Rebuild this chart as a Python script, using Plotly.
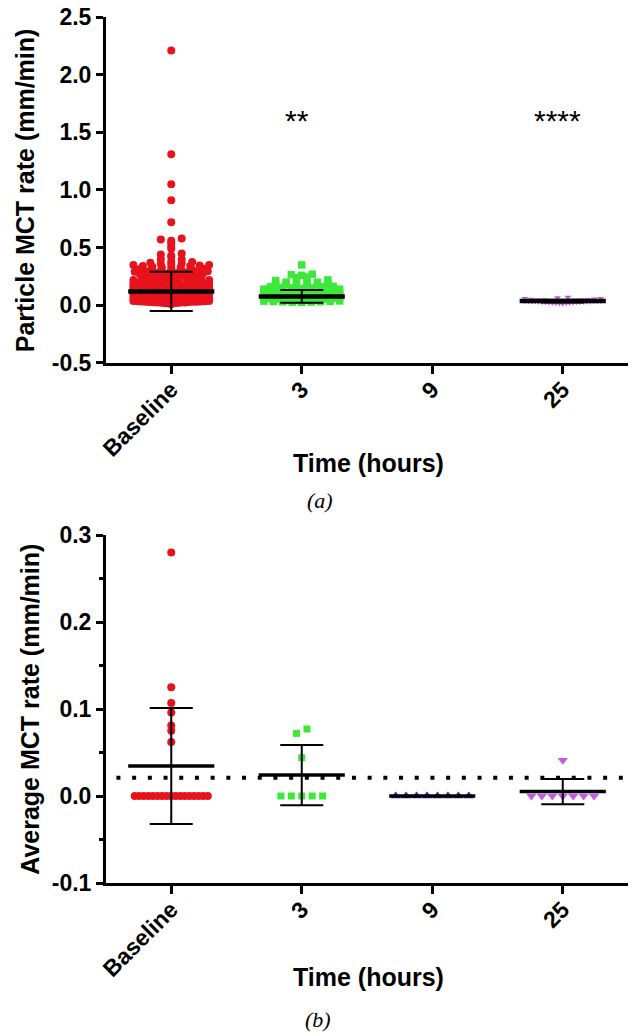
import numpy as np
import plotly.graph_objects as go

# ---------------- data ----------------
categories = ["Baseline", "3", "9", "25"]

# Panel (a): particle MCT rate (mm/min)
a_baseline = [
    2.21, 1.31, 1.05, 0.91, 0.72, 0.58, 0.57, 0.56, 0.54, 0.51, 0.49, 0.45, 0.44,
    0.43, 0.42, 0.40, 0.40,
    0.38, 0.375, 0.37, 0.365, 0.36, 0.355, 0.35, 0.35, 0.345, 0.34, 0.34, 0.335,
    0.33, 0.33, 0.325, 0.32, 0.315, 0.31, 0.305, 0.30, 0.30, 0.30,
    0.295, 0.29, 0.29, 0.29, 0.285, 0.28, 0.28, 0.275, 0.27, 0.27, 0.265, 0.26,
    0.255, 0.25, 0.25, 0.245, 0.24, 0.235, 0.23, 0.23, 0.225, 0.22, 0.22, 0.215,
    0.21, 0.21, 0.205, 0.20, 0.20, 0.20,
    0.198, 0.195, 0.193, 0.19, 0.188, 0.185, 0.183, 0.18, 0.178, 0.176, 0.174,
    0.172, 0.17, 0.168, 0.166, 0.165, 0.163, 0.161, 0.16, 0.158, 0.156, 0.155,
    0.153, 0.151, 0.15, 0.148, 0.146, 0.145, 0.143, 0.141, 0.14, 0.138, 0.136,
    0.135, 0.133, 0.131, 0.13, 0.128, 0.126, 0.125, 0.123, 0.121, 0.12, 0.118,
    0.116, 0.115, 0.113, 0.111, 0.11, 0.108, 0.106, 0.105, 0.103, 0.101, 0.10,
    0.10, 0.10, 0.10,
    0.012, 0.015, 0.018, 0.018, 0.021, 0.022, 0.024, 0.025, 0.025, 0.027, 0.028,
    0.03, 0.031, 0.031, 0.033, 0.034, 0.035, 0.036, 0.038, 0.038, 0.04, 0.041,
    0.042, 0.043, 0.044, 0.045, 0.045, 0.047, 0.048, 0.049, 0.05, 0.05, 0.051,
    0.052, 0.054, 0.055, 0.056, 0.057, 0.058, 0.059, 0.06, 0.06, 0.061, 0.063,
    0.064, 0.065, 0.066, 0.067, 0.068, 0.069, 0.07, 0.07, 0.071, 0.072, 0.074,
    0.075, 0.076, 0.077, 0.078, 0.079, 0.08, 0.08, 0.081, 0.083, 0.084, 0.085,
    0.086, 0.087, 0.088, 0.089, 0.09, 0.09, 0.091, 0.092, 0.094, 0.095, 0.096,
    0.097, 0.098, 0.099, 0.062, 0.073, 0.082, 0.093, 0.053, 0.046, 0.039, 0.029,
    0.058, 0.067,
]
a_3h = [
    0.35, 0.27, 0.265, 0.26, 0.245, 0.24, 0.22, 0.215, 0.2, 0.2, 0.2, 0.195,
    0.19, 0.185, 0.18, 0.18, 0.175, 0.17, 0.165, 0.16, 0.16, 0.155, 0.15, 0.15,
    0.145, 0.14, 0.14, 0.135, 0.13, 0.13, 0.125, 0.12, 0.12, 0.118, 0.115, 0.112,
    0.11, 0.108, 0.105, 0.103, 0.1, 0.1,
    0.025, 0.027, 0.028, 0.03, 0.031, 0.033, 0.035, 0.036, 0.038, 0.04, 0.041,
    0.043, 0.045, 0.046, 0.048, 0.05, 0.051, 0.052, 0.054, 0.055, 0.057, 0.058,
    0.06, 0.061, 0.062, 0.064, 0.065, 0.066, 0.068, 0.069, 0.07, 0.071, 0.072,
    0.074, 0.075, 0.076, 0.078, 0.079, 0.08, 0.081, 0.082, 0.084, 0.085, 0.086,
    0.088, 0.089, 0.09, 0.091, 0.092, 0.094, 0.095, 0.096, 0.098, 0.099,
]
a_9h = []
a_25h = [
    0.07, 0.065, 0.06, 0.058, 0.055, 0.052, 0.05, 0.048, 0.046, 0.045, 0.044,
    0.042, 0.041, 0.04, 0.039, 0.038, 0.037, 0.036, 0.035, 0.035, 0.034, 0.033,
    0.032, 0.031, 0.03, 0.03, 0.029, 0.028, 0.027, 0.026, 0.025, 0.024, 0.023,
    0.022, 0.021, 0.02, 0.018, 0.016,
]
a_mean = [0.12, 0.077, None, 0.037]
a_sd = [0.17, 0.055, None, 0.012]
a_sig = ["", "**", "", "****"]
a_sig_y = 1.6
a_yticks = [-0.5, 0.0, 0.5, 1.0, 1.5, 2.0, 2.5]
a_yticklabels = ["-0.5", "0.0", "0.5", "1.0", "1.5", "2.0", "2.5"]

# Panel (b): average MCT rate (mm/min)
b_baseline = [0.28, 0.125, 0.107, 0.096, 0.081, 0.075, 0.062,
              0.0, 0.0, 0.0, 0.0, 0.0, 0.0, 0.0, 0.0, 0.0, 0.0, 0.0, 0.0, 0.0,
              0.0, 0.0, 0.0, 0.0]
b_3h = [0.077, 0.072, 0.044, 0.0, 0.0, 0.0, 0.0, 0.0]
b_9h = [0.0, 0.0, 0.0, 0.0, 0.0, 0.0, 0.0, 0.0]
b_25h = [0.041, 0.0, 0.0, 0.0, 0.0, 0.0, 0.0, 0.0]
b_threshold = 0.021
b_yticks = [-0.1, 0.0, 0.1, 0.2, 0.3]
b_yticklabels = ["-0.1", "0.0", "0.1", "0.2", "0.3"]

# ---------------- styles ----------------
colors = ["#E8121C", "#3CE83A", "#2233B0", "#C65AE8"]
symbols = ["circle", "square", "triangle-up", "triangle-down"]
FONT = "Liberation Sans, Arial, sans-serif"


def swarm(vals, center, ybin, step, halfw):
    rows = {}
    for v in sorted(vals):
        rows.setdefault(int(np.floor(v / ybin + 0.5)), []).append(v)
    xs, ys = [], []
    for key in sorted(rows):
        row = rows[key]
        n = len(row)
        s = step if n < 2 else min(step, 2 * halfw / (n - 1))
        offs = sorted([(i - (n - 1) / 2) * s for i in range(n)], key=lambda o: (abs(o), o))
        for v, o in zip(row, offs):
            xs.append(center + o)
            ys.append(v)
    return xs, ys


def summary(means, sds, mean_hw, cap_hw):
    mx, my, ex, ey = [], [], [], []
    for i, (m, s) in enumerate(zip(means, sds)):
        if m is None:
            continue
        mx += [i - mean_hw, i + mean_hw, None]
        my += [m, m, None]
        if s:
            ex += [i, i, None, i - cap_hw, i + cap_hw, None, i - cap_hw, i + cap_hw, None]
            ey += [m - s, m + s, None, m + s, m + s, None, m - s, m - s, None]
    return mx, my, ex, ey


fig = go.Figure()

# panel (a) points
a_groups = [a_baseline, a_3h, a_9h, a_25h]
a_sizes = [8, 7.5, 6, 6]
for i, vals in enumerate(a_groups):
    if not vals:
        continue
    xs, ys = swarm(vals, i, 0.026, 0.08, 0.29)
    fig.add_trace(go.Scatter(x=xs, y=ys, mode="markers", xaxis="x", yaxis="y",
                             marker=dict(symbol=symbols[i], size=a_sizes[i], color=colors[i],
                                         line=dict(width=0)),
                             showlegend=False, hoverinfo="skip"))
mx, my, ex, ey = summary(a_mean, a_sd, 0.33, 0.165)
fig.add_trace(go.Scatter(x=ex, y=ey, mode="lines", xaxis="x", yaxis="y",
                         line=dict(color="black", width=2), showlegend=False))
fig.add_trace(go.Scatter(x=mx, y=my, mode="lines", xaxis="x", yaxis="y",
                         line=dict(color="black", width=4.5), showlegend=False))

# panel (b) points
b_groups = [b_baseline, b_3h, b_9h, b_25h]
b_sizes = [8, 7, 9, 9]
b_mean, b_sd = [], []
for i, vals in enumerate(b_groups):
    xs, ys = swarm(vals, i, 0.012, 0.08, 0.28)
    fig.add_trace(go.Scatter(x=xs, y=ys, mode="markers", xaxis="x2", yaxis="y2",
                             marker=dict(symbol=symbols[i], size=b_sizes[i], color=colors[i],
                                         line=dict(width=0)),
                             showlegend=False, hoverinfo="skip"))
    b_mean.append(float(np.mean(vals)))
    b_sd.append(float(np.std(vals, ddof=1)))
mx, my, ex, ey = summary(b_mean, b_sd, 0.33, 0.165)
fig.add_trace(go.Scatter(x=ex, y=ey, mode="lines", xaxis="x2", yaxis="y2",
                         line=dict(color="black", width=2), showlegend=False))
fig.add_trace(go.Scatter(x=mx, y=my, mode="lines", xaxis="x2", yaxis="y2",
                         line=dict(color="black", width=3.5), showlegend=False))

fig.add_shape(type="line", xref="x2", yref="y2", x0=-0.42, x1=3.46,
              y0=b_threshold, y1=b_threshold,
              line=dict(color="black", width=4, dash="4px,11.7px"))

tickfont = dict(family=FONT, size=23, color="black", weight="bold")
xcommon = dict(range=[-0.5, 3.5], tickmode="array", tickvals=list(range(len(categories))),
               ticktext=categories, tickangle=-45, ticks="outside", ticklen=8, tickwidth=3,
               tickcolor="black", showline=True, linecolor="black", linewidth=3,
               showgrid=False, zeroline=False, tickfont=tickfont, fixedrange=True,
               automargin=False, ticklabeloverflow="allow", ticklabelstandoff=-7)
ycommon = dict(tickmode="array", ticks="outside", ticklen=7, tickwidth=3, tickcolor="black",
               showline=True, linecolor="black", linewidth=3, showgrid=False,
               zeroline=False, tickfont=tickfont, fixedrange=True, automargin=False,
               ticklabeloverflow="allow")

fig.update_layout(
    width=640, height=1035, autosize=False,
    margin=dict(l=106, r=12, t=17, b=152),
    paper_bgcolor="white", plot_bgcolor="white",
    xaxis=dict(domain=[0, 1], anchor="y", **xcommon),
    yaxis=dict(domain=[0.6005, 1], anchor="x", range=[-0.5, 2.5],
               tickvals=a_yticks, ticktext=a_yticklabels, **ycommon),
    xaxis2=dict(domain=[0, 1], anchor="y2", **xcommon),
    yaxis2=dict(domain=[0, 0.4018], anchor="x2", range=[-0.1, 0.3],
                tickvals=b_yticks, ticktext=b_yticklabels,
                minor=dict(tickmode="linear", tick0=0, dtick=0.05, ticks="outside",
                           ticklen=4, tickwidth=3, tickcolor="black", showgrid=False),
                **ycommon),
)

titlefont = dict(family=FONT, size=25, color="black", weight="bold")
ann = []
for i, s in enumerate(a_sig):
    if s:
        ann.append(dict(x=i - 0.04, y=a_sig_y, xref="x", yref="y", text=s, showarrow=False,
                        font=dict(family=FONT, size=30, color="black")))
ann += [
    dict(x=-0.155, y=0.800, xref="paper", yref="paper", text="Particle MCT rate (mm/min)",
         textangle=-90, showarrow=False, font=titlefont, xanchor="center", yanchor="middle"),
    dict(x=-0.146, y=0.201, xref="paper", yref="paper", text="Average MCT rate (mm/min)",
         textangle=-90, showarrow=False, font=titlefont, xanchor="center", yanchor="middle"),
    dict(x=0.502, y=0.485, xref="paper", yref="paper", text="Time (hours)", showarrow=False,
         font=titlefont, xanchor="center", yanchor="middle"),
    dict(x=0.502, y=-0.108, xref="paper", yref="paper", text="Time (hours)", showarrow=False,
         font=titlefont, xanchor="center", yanchor="middle"),
    dict(x=0.41, y=0.442, xref="paper", yref="paper", text="(a)", showarrow=False,
         font=dict(family="Liberation Serif, Times New Roman, serif", size=22, color="black",
                   style="italic"), xanchor="center", yanchor="middle"),
    dict(x=0.406, y=-0.158, xref="paper", yref="paper", text="(b)", showarrow=False,
         font=dict(family="Liberation Serif, Times New Roman, serif", size=22, color="black",
                   style="italic"), xanchor="center", yanchor="middle"),
]
fig.update_layout(annotations=ann)

# remove the browser's default 8px body margin so the 640x1035 figure fills the window
fig.write_html("out.html", config={"displayModeBar": False},
               post_script="document.body.style.margin='0px';")
